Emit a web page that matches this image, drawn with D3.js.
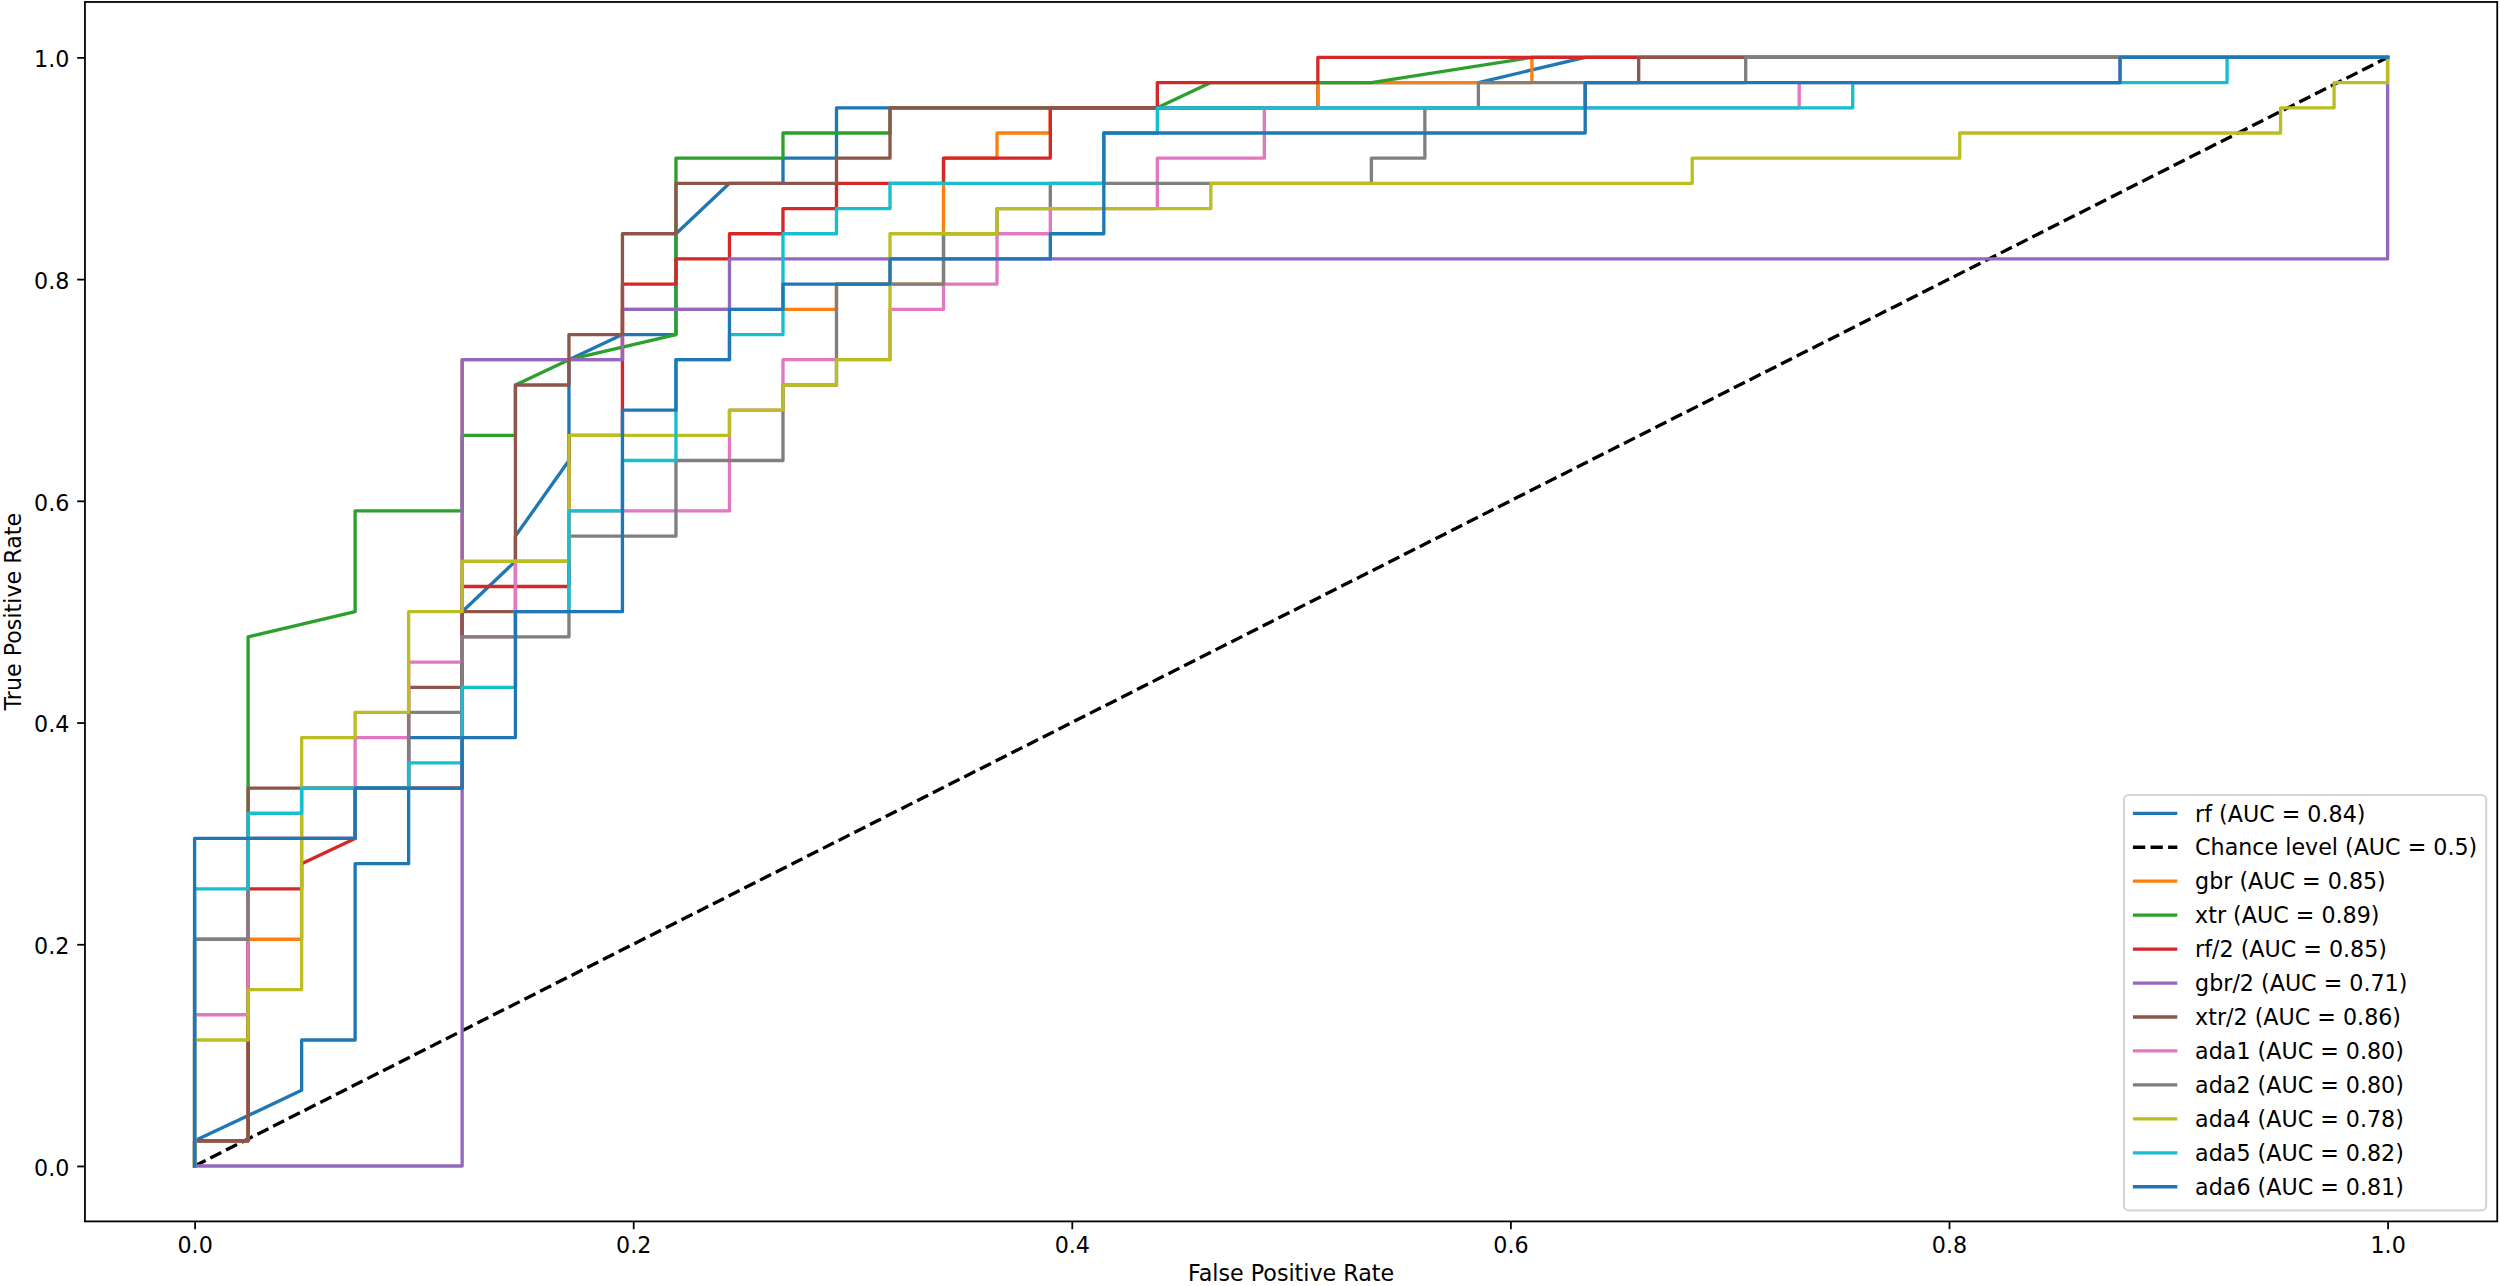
<!DOCTYPE html>
<html><head><meta charset="utf-8">
<script src="https://cdn.jsdelivr.net/npm/d3@7"></script>
<style>body{margin:0;background:#fff}svg{display:block}text{font-family:'DejaVu Sans',sans-serif}</style>
</head><body><div id="chart"></div>
<script>
// ---- data ----
const rfFpr = [0,0,0.0488,0.0488,0.0732,0.0732,0.0976,0.0976,0.1220,0.1220,0.1463,0.1463,0.1707,0.1707,0.1951,0.2195,0.2195,0.2439,0.2683,0.2683,0.2927,0.2927,0.5122,0.5122,0.5854,0.6341,1];
const rfTpr = [0,0.0227,0.0682,0.1136,0.1136,0.2727,0.2727,0.3864,0.3864,0.5,0.5455,0.5682,0.6364,0.7273,0.75,0.75,0.8409,0.8864,0.8864,0.9091,0.9091,0.9545,0.9545,0.9773,0.9773,1,1];
const chanceFpr = [0,1];
const chanceTpr = [0,1];
const gbrFpr = [0,0,0.0488,0.0488,0.1220,0.1220,0.1951,0.1951,0.2927,0.2927,0.3415,0.3415,0.3659,0.3659,0.3902,0.3902,0.5122,0.5122,0.6098,0.6098,1];
const gbrTpr = [0,0.2045,0.2045,0.3409,0.3409,0.7273,0.7273,0.7727,0.7727,0.7955,0.7955,0.9091,0.9091,0.9318,0.9318,0.9545,0.9545,0.9773,0.9773,1,1];
const xtrFpr = [0,0,0.0244,0.0244,0.0732,0.0732,0.1220,0.1220,0.1463,0.1463,0.1707,0.2195,0.2195,0.2683,0.2683,0.3171,0.3171,0.4390,0.4634,0.5366,0.6098,1];
const xtrTpr = [0,0.0227,0.0227,0.4773,0.5,0.5909,0.5909,0.6591,0.6591,0.7045,0.7273,0.75,0.9091,0.9091,0.9318,0.9318,0.9545,0.9545,0.9773,0.9773,1,1];
const rf2Fpr = [0,0,0.0244,0.0244,0.0488,0.0488,0.0732,0.0732,0.1220,0.1220,0.1707,0.1707,0.1951,0.1951,0.2195,0.2195,0.2439,0.2439,0.2683,0.2683,0.2927,0.2927,0.3415,0.3415,0.3902,0.3902,0.4390,0.4390,0.5122,0.5122,1];
const rf2Tpr = [0,0.0227,0.0227,0.25,0.25,0.2727,0.2955,0.3409,0.3409,0.5227,0.5227,0.6591,0.6591,0.7955,0.7955,0.8182,0.8182,0.8409,0.8409,0.8636,0.8636,0.8864,0.8864,0.9091,0.9091,0.9545,0.9545,0.9773,0.9773,1,1];
const gbr2Fpr = [0,0.1220,0.1220,0.1951,0.1951,0.2439,0.2439,1,1];
const gbr2Tpr = [0,0,0.7273,0.7273,0.7727,0.7727,0.8182,0.8182,1];
const xtr2Fpr = [0,0,0.0244,0.0244,0.0976,0.0976,0.1220,0.1220,0.1463,0.1463,0.1707,0.1707,0.1951,0.1951,0.2195,0.2195,0.2927,0.2927,0.3171,0.3171,0.6341,0.6341,0.6585,0.6585,1];
const xtr2Tpr = [0,0.0227,0.0227,0.3409,0.3409,0.4318,0.4318,0.5,0.5,0.7045,0.7045,0.75,0.75,0.8409,0.8409,0.8864,0.8864,0.9091,0.9091,0.9545,0.9545,0.9773,0.9773,1,1];
const ada1Fpr = [0,0,0.0244,0.0244,0.0732,0.0732,0.0976,0.0976,0.1220,0.1220,0.1463,0.1463,0.1707,0.1707,0.2439,0.2439,0.2683,0.2683,0.3171,0.3171,0.3415,0.3415,0.3659,0.3659,0.3902,0.3902,0.4390,0.4390,0.4878,0.4878,0.7317,0.7317,0.8780,0.8780,1];
const ada1Tpr = [0,0.1364,0.1364,0.2955,0.2955,0.3864,0.3864,0.4545,0.4545,0.4773,0.4773,0.5455,0.5455,0.5909,0.5909,0.6818,0.6818,0.7273,0.7273,0.7727,0.7727,0.7955,0.7955,0.8409,0.8409,0.8636,0.8636,0.9091,0.9091,0.9545,0.9545,0.9773,0.9773,1,1];
const ada2Fpr = [0,0,0.0244,0.0244,0.0732,0.0732,0.0976,0.0976,0.1220,0.1220,0.1707,0.1707,0.2195,0.2195,0.2683,0.2683,0.2927,0.2927,0.3415,0.3415,0.3659,0.3659,0.3902,0.3902,0.5366,0.5366,0.5610,0.5610,0.5854,0.5854,0.7073,0.7073,1];
const ada2Tpr = [0,0.2045,0.2045,0.2955,0.2955,0.3409,0.3409,0.4091,0.4091,0.4773,0.4773,0.5682,0.5682,0.6364,0.6364,0.7045,0.7045,0.7955,0.7955,0.8409,0.8409,0.8636,0.8636,0.8864,0.8864,0.9091,0.9091,0.9545,0.9545,0.9773,0.9773,1,1];
const ada4Fpr = [0,0,0.0244,0.0244,0.0488,0.0488,0.0732,0.0732,0.0976,0.0976,0.1220,0.1220,0.1707,0.1707,0.2439,0.2439,0.2683,0.2683,0.2927,0.2927,0.3171,0.3171,0.3659,0.3659,0.4634,0.4634,0.6829,0.6829,0.8049,0.8049,0.9512,0.9512,0.9756,0.9756,1,1];
const ada4Tpr = [0,0.1136,0.1136,0.1591,0.1591,0.3864,0.3864,0.4091,0.4091,0.5,0.5,0.5455,0.5455,0.6591,0.6591,0.6818,0.6818,0.7045,0.7045,0.7273,0.7273,0.8409,0.8409,0.8636,0.8636,0.8864,0.8864,0.9091,0.9091,0.9318,0.9318,0.9545,0.9545,0.9773,0.9773,1];
const ada5Fpr = [0,0,0.0244,0.0244,0.0488,0.0488,0.0976,0.0976,0.1220,0.1220,0.1463,0.1463,0.1707,0.1707,0.1951,0.1951,0.2195,0.2195,0.2439,0.2439,0.2683,0.2683,0.2927,0.2927,0.3171,0.3171,0.4146,0.4146,0.4390,0.4390,0.7561,0.7561,0.9268,0.9268,1];
const ada5Tpr = [0,0.25,0.25,0.3182,0.3182,0.3409,0.3409,0.3636,0.3636,0.4318,0.4318,0.5,0.5,0.5909,0.5909,0.6364,0.6364,0.7273,0.7273,0.75,0.75,0.8409,0.8409,0.8636,0.8636,0.8864,0.8864,0.9318,0.9318,0.9545,0.9545,0.9773,0.9773,1,1];
const ada6Fpr = [0,0,0.0732,0.0732,0.1220,0.1220,0.1463,0.1463,0.1951,0.1951,0.2195,0.2195,0.2439,0.2439,0.2683,0.2683,0.3171,0.3171,0.3902,0.3902,0.4146,0.4146,0.6341,0.6341,0.8780,0.8780,1];
const ada6Tpr = [0,0.2955,0.2955,0.3409,0.3409,0.3864,0.3864,0.5,0.5,0.6818,0.6818,0.7273,0.7273,0.7727,0.7727,0.7955,0.7955,0.8182,0.8182,0.8409,0.8409,0.9318,0.9318,0.9773,0.9773,1,1];

const seriesLabels = ["rf (AUC = 0.84)","Chance level (AUC = 0.5)","gbr (AUC = 0.85)","xtr (AUC = 0.89)","rf/2 (AUC = 0.85)","gbr/2 (AUC = 0.71)","xtr/2 (AUC = 0.86)","ada1 (AUC = 0.80)","ada2 (AUC = 0.80)","ada4 (AUC = 0.78)","ada5 (AUC = 0.82)","ada6 (AUC = 0.81)"];
const seriesColors = ["#1f77b4","#000000","#ff7f0e","#2ca02c","#d62728","#9467bd","#8c564b","#e377c2","#7f7f7f","#bcbd22","#17becf","#1f77b4"];
const seriesFpr = [rfFpr,chanceFpr,gbrFpr,xtrFpr,rf2Fpr,gbr2Fpr,xtr2Fpr,ada1Fpr,ada2Fpr,ada4Fpr,ada5Fpr,ada6Fpr];
const seriesTpr = [rfTpr,chanceTpr,gbrTpr,xtrTpr,rf2Tpr,gbr2Tpr,xtr2Tpr,ada1Tpr,ada2Tpr,ada4Tpr,ada5Tpr,ada6Tpr];
const tickValues = [0,0.2,0.4,0.6,0.8,1.0];
const xTitle = "False Positive Rate";
const yTitle = "True Positive Rate";

// ---- layout ----
const W = 2500, H = 1286;
const L = 84.95, R = 2497.25, T = 1.97, B = 1221.4;
const FS = 22.2, LW = 3.33;

const svg = d3.select("#chart").append("svg").attr("width", W).attr("height", H);
svg.append("rect").attr("width", W).attr("height", H).attr("fill", "#fff");

const x = d3.scaleLinear().domain([-0.05, 1.05]).range([L, R]);
const y = d3.scaleLinear().domain([-0.05, 1.05]).range([B, T]);

const data = seriesLabels.map((lab, i) => ({
  label: lab, color: seriesColors[i], dashed: i === 1,
  pts: seriesFpr[i].map((f, k) => [f, seriesTpr[i][k]])
}));

const line = d3.line().x(d => x(d[0])).y(d => y(d[1]));
const plot = svg.append("g");
data.forEach(s => {
  plot.append("path").attr("d", line(s.pts)).attr("fill", "none")
    .attr("stroke", s.color).attr("stroke-width", LW)
    .attr("stroke-linejoin", "round")
    .attr("stroke-linecap", s.dashed ? "butt" : "square")
    .attr("stroke-dasharray", s.dashed ? "12.3,5.3" : null);
});

// axes
const fmt = d3.format(".1f");
const xAxis = svg.append("g").attr("transform", `translate(0,${B})`)
  .call(d3.axisBottom(x).tickValues(tickValues).tickFormat(fmt).tickSize(7.8).tickPadding(7.8).tickSizeOuter(0));
const yAxis = svg.append("g").attr("transform", `translate(${L},0)`)
  .call(d3.axisLeft(y).tickValues(tickValues).tickFormat(fmt).tickSize(7.8).tickPadding(7.8).tickSizeOuter(0));
[xAxis, yAxis].forEach(g => {
  g.select(".domain").remove();
  g.selectAll(".tick line").attr("stroke", "#000").attr("stroke-width", 1.78);
  g.selectAll(".tick text").attr("fill", "#000").style("font-size", FS + "px").style("font-family", "'DejaVu Sans'");
});
xAxis.selectAll(".tick text").attr("dy", null).attr("y", 31.7).attr("dominant-baseline", "alphabetic");
yAxis.selectAll(".tick text").attr("dy", null).attr("y", 9.2).attr("x", -15.6).attr("dominant-baseline", "alphabetic");

// spines
svg.append("rect").attr("x", L).attr("y", T).attr("width", R - L).attr("height", B - T)
  .attr("fill", "none").attr("stroke", "#000").attr("stroke-width", 1.78);

// titles
svg.append("text").attr("x", (L + R) / 2).attr("y", 1281).attr("text-anchor", "middle")
  .style("font-size", FS + "px").text(xTitle);
svg.append("text").attr("transform", `translate(21,${(T + B) / 2}) rotate(-90)`).attr("text-anchor", "middle")
  .style("font-size", FS + "px").text(yTitle);

// legend
const leg = svg.append("g");
const rowPitch = 33.95, firstRow = 813.3;
const box = leg.append("rect");
const texts = [];
data.forEach((s, i) => {
  const cy = firstRow + i * rowPitch;
  leg.append("line").attr("class", "h").attr("y1", cy).attr("y2", cy)
    .attr("stroke", s.color).attr("stroke-width", LW)
    .attr("stroke-dasharray", s.dashed ? "12.3,5.3" : null);
  texts.push(leg.append("text").attr("y", cy + 8.2).style("font-size", FS + "px").attr("fill", "#000").text(s.label));
});
const maxW = d3.max(texts, t => t.node().getComputedTextLength());
const pad = 8.9, hl = 44.4, htp = 17.8;
const boxR = 2486.15, boxB = 1210.3, boxT = 795;
const boxL = boxR - (pad + hl + htp + maxW + pad);
box.attr("x", boxL).attr("y", boxT).attr("width", boxR - boxL).attr("height", boxB - boxT)
  .attr("rx", 4.4).attr("ry", 4.4).attr("fill", "#fff").attr("fill-opacity", 0.8)
  .attr("stroke", "#cccccc").attr("stroke-opacity", 0.8).attr("stroke-width", 2.2);
leg.selectAll("line.h").attr("x1", boxL + pad).attr("x2", boxL + pad + hl);
texts.forEach(t => t.attr("x", boxL + pad + hl + htp));
</script></body></html>
